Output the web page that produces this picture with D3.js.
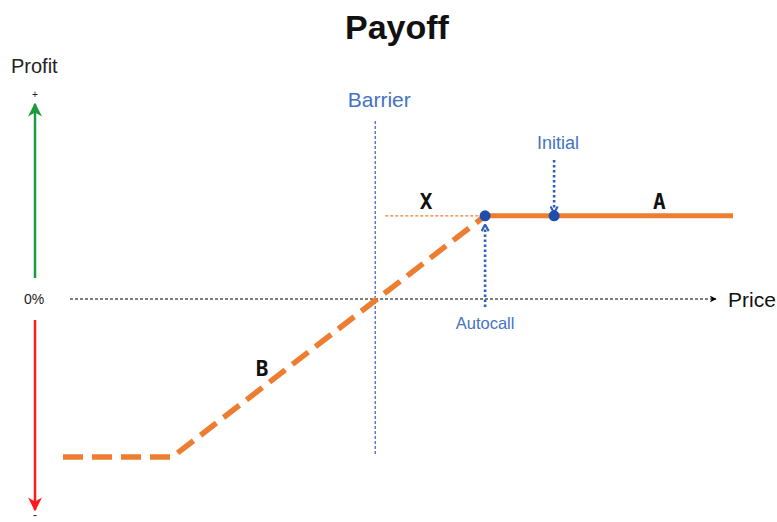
<!DOCTYPE html>
<html>
<head>
<meta charset="utf-8">
<script src="https://cdn.jsdelivr.net/npm/d3@7"></script>
<style>
  body { margin: 0; background: #fff; }
  text { font-family: "Liberation Sans", Arial, sans-serif; }
</style>
</head>
<body>
<div id="chart"></div>
<script>
// price levels (arbitrary units, 0..100 across the plot)
const priceStart = 0, priceFloorEnd = 16.3, priceBarrier = 46.6;
const priceAutocall = 63, priceInitial = 73.3, priceEnd = 100;
// profit levels
const profitFloor = -19, profitZero = 0, profitCoupon = 10;

// payoff pieces
const payoffB = [[priceStart, profitFloor], [priceFloorEnd, profitFloor], [priceAutocall, profitCoupon]];
const payoffA = [[priceAutocall, profitCoupon], [priceEnd, profitCoupon]];
const couponGuide = [[priceBarrier + 1.5, profitCoupon], [priceAutocall, profitCoupon]];
const markers = [priceAutocall, priceInitial];

const svgW = 777, svgH = 522;
const orange = '#ED7D31', blue = '#2F5FBF', textBlue = '#4472C4';

const svg = d3.select('#chart').append('svg')
  .attr('width', svgW)
  .attr('height', svgH);

// scales
const x = d3.scaleLinear().domain([0, 100]).range([63, 733]);
const y = d3.scaleLinear().domain([-25, 25]).range([507, 91]);
const line = d3.line().x(d => x(d[0])).y(d => y(d[1]));

// arrow markers
const defs = svg.append('defs');
function triMarker(id, color, size) {
  defs.append('marker').attr('id', id)
    .attr('viewBox', '0 0 10 10').attr('refX', 9).attr('refY', 5)
    .attr('markerWidth', size).attr('markerHeight', size)
    .attr('markerUnits', 'userSpaceOnUse')
    .attr('orient', 'auto')
    .append('path').attr('d', 'M0,0 L10,5 L0,10 L3,5 Z').attr('fill', color);
}
function chevronMarker(id, color) {
  defs.append('marker').attr('id', id)
    .attr('viewBox', '0 0 10 10').attr('refX', 9).attr('refY', 5)
    .attr('markerWidth', 9).attr('markerHeight', 9)
    .attr('markerUnits', 'userSpaceOnUse')
    .attr('orient', 'auto')
    .append('path').attr('d', 'M2,1 L9,5 L2,9').attr('fill', 'none')
    .attr('stroke', color).attr('stroke-width', 2.4);
}
triMarker('arrGreen', '#1E9A3C', 14);
triMarker('arrRed', '#FF1A1A', 14);
triMarker('arrBlack', '#000', 7);
chevronMarker('chevBlue', blue);

// title
svg.append('text')
  .attr('x', 397).attr('y', 39)
  .attr('text-anchor', 'middle')
  .style('font-size', '34px').style('font-weight', 'bold')
  .attr('fill', '#111')
  .text('Payoff');

// profit axis (green up, red down)
svg.append('line')
  .attr('x1', 35).attr('x2', 35).attr('y1', y(profitZero) - 21).attr('y2', 104)
  .attr('stroke', '#1E9A3C').attr('stroke-width', 2.5)
  .attr('marker-end', 'url(#arrGreen)');
svg.append('line')
  .attr('x1', 35).attr('x2', 35).attr('y1', y(profitZero) + 21).attr('y2', 510)
  .attr('stroke', '#FF1A1A').attr('stroke-width', 2.5)
  .attr('marker-end', 'url(#arrRed)');
svg.append('text').attr('x', 11).attr('y', 73)
  .style('font-size', '20px').attr('fill', '#222').text('Profit');
svg.append('text').attr('x', 35).attr('y', 98).attr('text-anchor', 'middle')
  .style('font-size', '10px').attr('fill', '#222').text('+');
svg.append('text').attr('x', 35).attr('y', 519).attr('text-anchor', 'middle')
  .style('font-size', '12px').attr('fill', '#222').text('-');
svg.append('text').attr('x', 24).attr('y', 304)
  .style('font-size', '14px').attr('fill', '#222').text('0%');

// price axis
svg.append('line')
  .attr('x1', 70).attr('x2', 716).attr('y1', y(profitZero)).attr('y2', y(profitZero))
  .attr('stroke', '#000').attr('stroke-width', 1.2)
  .attr('stroke-dasharray', '3,2')
  .attr('marker-end', 'url(#arrBlack)');
svg.append('text').attr('x', 728).attr('y', 307)
  .style('font-size', '21px').attr('fill', '#111').text('Price');

// barrier
svg.append('line')
  .attr('x1', x(priceBarrier)).attr('x2', x(priceBarrier))
  .attr('y1', 121).attr('y2', 456)
  .attr('stroke', blue).attr('stroke-width', 1.2)
  .attr('stroke-dasharray', '3,2');
svg.append('text').attr('x', x(priceBarrier) + 4).attr('y', 107)
  .attr('text-anchor', 'middle')
  .style('font-size', '21px').attr('fill', textBlue).text('Barrier');

// coupon guide line
svg.append('path').datum(couponGuide)
  .attr('d', line).attr('fill', 'none')
  .attr('stroke', orange).attr('stroke-width', 1.2)
  .attr('stroke-dasharray', '3,2');

// payoff B (dashed)
svg.append('path').datum(payoffB)
  .attr('d', line).attr('fill', 'none')
  .attr('stroke', orange).attr('stroke-width', 5.5)
  .attr('stroke-dasharray', '20,9');

// payoff A (solid)
svg.append('path').datum(payoffA)
  .attr('d', line).attr('fill', 'none')
  .attr('stroke', orange).attr('stroke-width', 5);

// autocall arrow (up)
svg.append('line')
  .attr('x1', x(priceAutocall)).attr('x2', x(priceAutocall))
  .attr('y1', y(profitZero) + 8).attr('y2', y(profitCoupon) + 9)
  .attr('stroke', blue).attr('stroke-width', 2.6)
  .attr('stroke-dasharray', '2.5,2.5')
  .attr('marker-end', 'url(#chevBlue)');
svg.append('text').attr('x', x(priceAutocall)).attr('y', 329)
  .attr('text-anchor', 'middle')
  .style('font-size', '16.5px').attr('fill', textBlue).text('Autocall');

// initial arrow (down)
svg.append('line')
  .attr('x1', x(priceInitial)).attr('x2', x(priceInitial))
  .attr('y1', 160).attr('y2', y(profitCoupon) - 3)
  .attr('stroke', blue).attr('stroke-width', 2.6)
  .attr('stroke-dasharray', '2.5,2.5')
  .attr('marker-end', 'url(#chevBlue)');
svg.append('text').attr('x', x(priceInitial) + 4).attr('y', 149)
  .attr('text-anchor', 'middle')
  .style('font-size', '18px').attr('fill', textBlue).text('Initial');

// markers
svg.selectAll('circle.mk')
  .data(markers)
  .join('circle')
  .attr('class', 'mk')
  .attr('cx', d => x(d)).attr('cy', y(profitCoupon))
  .attr('r', 5.5).attr('fill', '#1F4EAA');

// region labels
const regionLabels = [
  { t: 'X', p: 54.2, v: 10.8 },
  { t: 'A', p: 89, v: 10.8 },
  { t: 'B', p: 29.7, v: -9.3 }
];
svg.selectAll('text.reg')
  .data(regionLabels)
  .join('text')
  .attr('class', 'reg')
  .attr('x', d => x(d.p)).attr('y', d => y(d.v))
  .attr('text-anchor', 'middle')
  .style('font-family', '"DejaVu Sans Mono", monospace')
  .style('font-size', '21px').style('font-weight', 'bold')
  .attr('fill', '#111')
  .text(d => d.t);
</script>
</body>
</html>
